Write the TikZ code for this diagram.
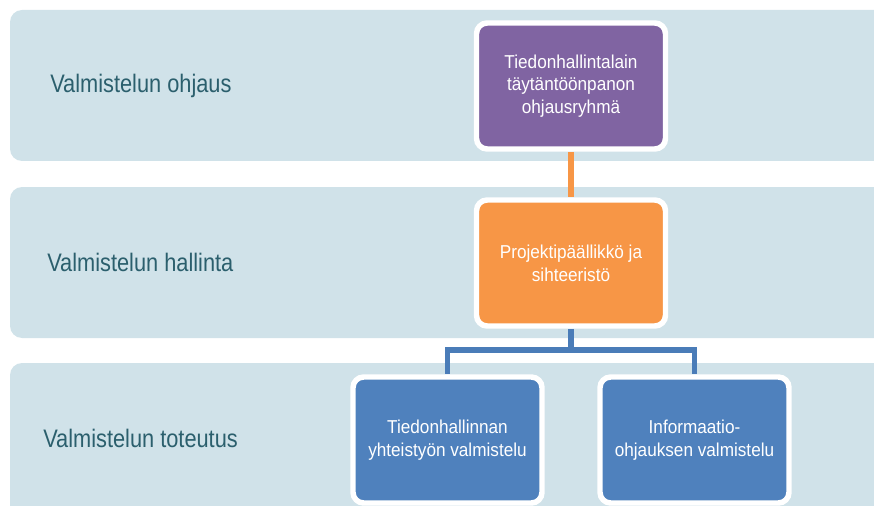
\documentclass[tikz,border=0pt]{standalone}
\usepackage{fontspec}
\setmainfont{Liberation Sans}
\newfontfamily\labfont[FakeStretch=0.86]{Liberation Sans}
\newfontfamily\boxfont[FakeStretch=0.92]{Liberation Sans}
\definecolor{bandc}{HTML}{D0E2E9}
\definecolor{labc}{HTML}{2B5F6D}
\definecolor{purp}{HTML}{8064A2}
\definecolor{oran}{HTML}{F79646}
\definecolor{blu}{HTML}{4F81BD}
\definecolor{blul}{HTML}{4A7CB8}
\pgfdeclarelayer{bands}
\pgfdeclarelayer{background}
\pgfsetlayers{bands,background,main}
\tikzset{
  band/.style={fill=bandc, rounded corners=9pt},
  lab/.style={anchor=base west, text=labc, font=\labfont\fontsize{19pt}{22pt}\selectfont, inner sep=0pt},
  orgbox/.style={draw=white, line width=4.1pt, rounded corners=8pt, minimum width=189*0.75pt, minimum height=126*0.75pt,
    text=white, align=center, font=\boxfont\fontsize{14pt}{17pt}\selectfont, inner sep=0pt},
  conn/.style={line width=4.2pt}
}
\begin{document}
\begin{tikzpicture}[x=0.75pt,y=-0.75pt]
\useasboundingbox (0,0) rectangle (874,506);
\clip (0,0) rectangle (874,506);
\begin{pgfonlayer}{bands}
\fill[band] (10,10) rectangle (900,161);
\fill[band] (10,187) rectangle (900,338);
\fill[band] (10,363) rectangle (900,540);
\end{pgfonlayer}
\node[lab] (l1) at (50,93) {Valmistelun ohjaus};
\node[lab] (l2) at (47,271) {Valmistelun hallinta};
\node[lab] (l3) at (43,447) {Valmistelun toteutus};

\node[orgbox, fill=purp] (p) at (571,86) {Tiedonhallintalain\\täytäntöönpanon\\ohjausryhmä};
\node[orgbox, fill=oran] (o) at (571,263) {Projektipäällikkö ja\\sihteeristö};
\node[orgbox, fill=blu] (b1) at (447.5,440) {Tiedonhallinnan\\yhteistyön valmistelu};
\node[orgbox, fill=blu] (b2) at (694.5,440) {Informaatio-\\ohjauksen valmistelu};
\coordinate (j) at (571,350);
\begin{pgfonlayer}{background}
\draw[conn, oran] (p.south) -- (o.north);
\draw[conn, blul] (o.south) -- (j) -| (b1.north);
\draw[conn, blul] (j) -| (b2.north);
\end{pgfonlayer}
\end{tikzpicture}
\end{document}
